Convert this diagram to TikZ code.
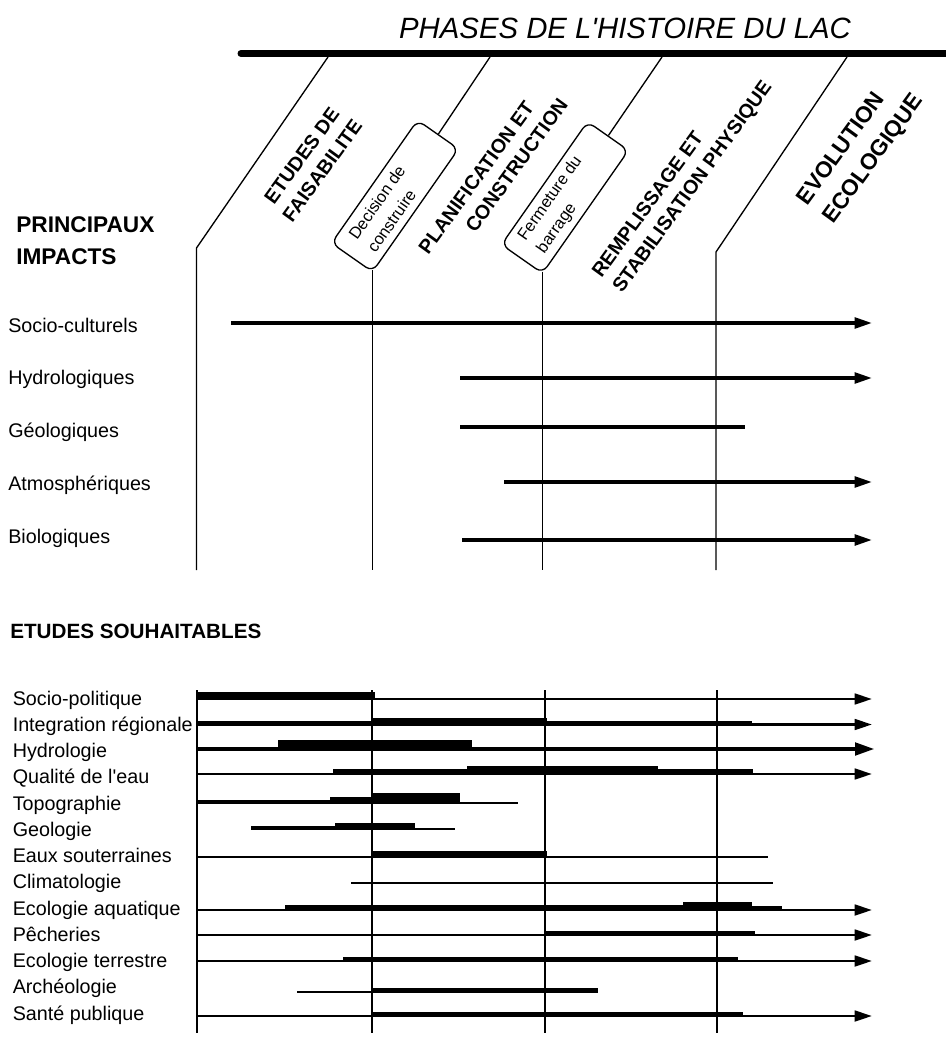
\documentclass[tikz,border=0pt]{standalone}
\usepackage{fontspec}
\setmainfont{Liberation Sans}
\usetikzlibrary{arrows.meta, calc}

\begin{document}
\begin{tikzpicture}[x=0.75pt, y=-0.75pt,
    gridline/.style={line width=1pt},
    impact/.style={line width=2.5pt, -{Triangle[length=13pt,width=8pt]}},
    study/.style={line width=2pt},
    studyarrow/.style={study, -{Triangle[length=13pt,width=8pt]}},
    heading/.style={font=\fontsize{17}{24}\selectfont\bfseries, align=left, inner sep=0pt},
    rowlabel/.style={font=\fontsize{14.8}{17}\selectfont, anchor=base west, inner sep=0pt},
    phase/.style={font=\fontsize{14.8}{19}\selectfont\bfseries, rotate=54, inner sep=0pt},
    event/.style={draw, gridline, rounded corners=6pt, rotate=55, minimum width=112.5pt, minimum height=37.5pt},
    eventtext/.style={font=\fontsize{12.3}{17}\selectfont, rotate=55, anchor=west, align=left, inner sep=0pt}]
    \useasboundingbox (0,0) rectangle (945,1037);

    % Title and time bar
    \node[font=\fontsize{22}{26}\selectfont\itshape, anchor=base] (title) at (625,39) {PHASES DE L\textquotesingle HISTOIRE DU LAC};
    \draw[line width=5.25pt, line cap=round] (241,53.5) -- (950,53.5);

    % Phase boundaries
    \coordinate (base) at (0,570);
    \coordinate (b1top) at (328,57);
    \coordinate (b2top) at (490,57);
    \coordinate (b3top) at (662,57);
    \coordinate (b4top) at (847,57);
    \draw[gridline] (b1top) -- (196.5,248) -- (196.5,570);
    \draw[gridline] (b4top) -- (716,252) -- (716,570);

    % Events
    \node[event] (decision) at (395,196) {};
    \node[eventtext] (decisiontext) at ($(decision.west)!12.75pt!(decision.east)$) {Decision de\\construire};
    \draw[gridline] (decision.east) -- (b2top);
    \draw[gridline] ([yshift=2pt]decision.south west) -- (decision.south west |- base);

    \node[event] (closing) at (565,197.5) {};
    \node[eventtext] (closingtext) at ($(closing.west)!12.75pt!(closing.east)$) {Fermeture du\\barrage};
    \draw[gridline] (closing.east) -- (b3top);
    \draw[gridline] ([yshift=2pt]closing.south west) -- (closing.south west |- base);

    % Phase names
    \node[phase, align=center] (feasibility) at (312,163) {ETUDES DE\\FAISABILITE};
    \node[phase, align=left] (planning) at (493,176) {PLANIFICATION ET\\\hspace*{33.75pt}CONSTRUCTION};
    \node[phase, align=left] (filling) at (683,180) {REMPLISSAGE ET\\STABILISATION PHYSIQUE};
    \node[phase, align=left, font=\fontsize{17}{24}\selectfont\bfseries] (evolution) at (861,150) {EVOLUTION\\ECOLOGIQUE};

    % Main impacts
    \node[heading, anchor=west] (impacts) at (16,241) {PRINCIPAUX\\IMPACTS};
    \node[rowlabel] (sociocult) at (8,332) {Socio-culturels};
    \node[rowlabel] (hydro) at (8,384) {Hydrologiques};
    \node[rowlabel] (geol) at (8,437) {Géologiques};
    \node[rowlabel] (atmo) at (8,490) {Atmosphériques};
    \node[rowlabel] (bio) at (8,543) {Biologiques};
    \draw[impact] (231,323) -- (872,323);
    \draw[impact] (460,378) -- (872,378);
    \draw[line width=2.3pt] (460,427) -- (745,427);
    \draw[impact] (504,482) -- (872,482);
    \draw[impact] (462,540) -- (872,540);

    % Desirable studies
    \node[heading, anchor=base west, font=\fontsize{15.5}{20}\selectfont\bfseries] (studies) at (10,638) {ETUDES SOUHAITABLES};
    \foreach \x in {197,372,545,717}
        \draw[gridline] (\x,690) -- (\x,1033);
    \foreach \t [count=\i] in {Socio-politique, Integration régionale, Hydrologie, Qualité de l\textquotesingle eau,
        Topographie, Geologie, Eaux souterraines, Climatologie, Ecologie aquatique, Pêcheries,
        Ecologie terrestre, Archéologie, Santé publique}
        \node[rowlabel] (study\i) at (12.5,{705+26.25*(\i-1)}) {\t};

    \foreach \y in {699,724.5,774,910,935,961,1016}
        \draw[studyarrow] (197,\y) -- (872,\y);
    \draw[line width=3.4pt, -{Triangle[length=15pt,width=9pt]}] (197,749) -- (875,749);
    \foreach \xa/\xb/\y in {197/518/803, 251/455/829, 197/768/857, 351/773/883, 297/598/992}
        \draw[study] (\xa,\y) -- (\xb,\y);

    % Intensity of each study
    \foreach \xa/\xb/\y/\h in {197/375/699/8, 197/372/724.5/4.5, 372/547/724.5/8, 547/752/724.5/4.5,
        278/472/749/10, 333/467/774/6, 467/658/774/9, 658/753/774/6,
        197/330/803/4.5, 330/372/803/7, 372/460/803/11, 251/335/829/4.5, 335/415/829/7,
        372/547/857/7, 285/683/910/6, 683/752/910/9, 752/782/910/5,
        545/755/935/5, 343/738/961/5, 372/598/992/5, 372/743/1016/5}
        \fill ({\xa},{\y+1.4}) rectangle ({\xb},{\y+1.4-\h});
\end{tikzpicture}
\end{document}
